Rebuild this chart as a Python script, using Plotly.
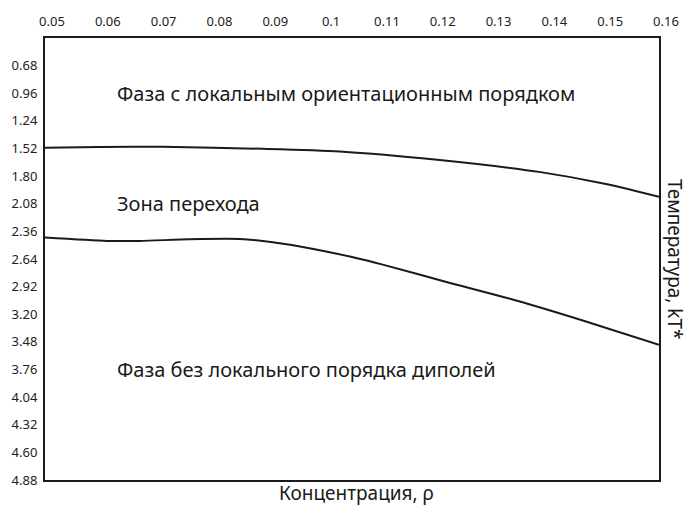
import plotly.graph_objects as go

# Concentration grid and phase-boundary temperatures
conc_upper = [0.05, 0.0598, 0.0711, 0.089, 0.1028, 0.1207, 0.1385, 0.1505, 0.16]
temp_upper = [1.513, 1.505, 1.503, 1.523, 1.55, 1.637, 1.757, 1.88, 2.01]

conc_lower = [0.05, 0.0611, 0.067, 0.0759, 0.0849, 0.0908, 0.0969, 0.1063,
              0.1105, 0.1224, 0.1344, 0.1462, 0.16]
temp_lower = [2.423, 2.457, 2.457, 2.44, 2.437, 2.47, 2.525, 2.637,
              2.697, 2.88, 3.06, 3.26, 3.51]

x_ticks = [0.05, 0.06, 0.07, 0.08, 0.09, 0.1, 0.11, 0.12, 0.13, 0.14, 0.15, 0.16]
x_ticktext = ["0.05", "0.06", "0.07", "0.08", "0.09", "0.1", "0.11", "0.12",
              "0.13", "0.14", "0.15", "0.16"]
y_ticks = [0.68, 0.96, 1.24, 1.52, 1.80, 2.08, 2.36, 2.64, 2.92, 3.20,
           3.48, 3.76, 4.04, 4.32, 4.60, 4.88]
y_ticktext = [f"{v:.2f}" for v in y_ticks]

region_labels = ["Фаза с локальным ориентационным порядком",
                 "Зона перехода",
                 "Фаза без локального порядка диполей"]
region_y = [0.96, 2.08, 3.76]
label_x = 0.0626

FONT = "Noto Sans"
INK = "#1a1a1a"

fig = go.Figure()
for xs, ys in [(conc_upper, temp_upper), (conc_lower, temp_lower)]:
    fig.add_trace(go.Scatter(
        x=xs, y=ys, mode="lines",
        line=dict(color=INK, width=2, shape="spline", smoothing=0.7),
        hoverinfo="skip", showlegend=False,
    ))

annotations = []
for text, yv in zip(region_labels, region_y):
    annotations.append(dict(
        x=label_x, y=yv, xref="x", yref="y", text=text, showarrow=False,
        xanchor="left", yanchor="middle",
        font=dict(family=FONT, size=20, color=INK),
    ))
annotations.append(dict(
    x=0.507, y=-0.030, xref="paper", yref="paper", text="Концентрация, ρ",
    showarrow=False, xanchor="center", yanchor="middle",
    font=dict(family=FONT, size=19, color=INK),
))
annotations.append(dict(
    x=1.026, y=0.498, xref="paper", yref="paper", text="Температура, kT*",
    showarrow=False, xanchor="center", yanchor="middle", textangle=90,
    font=dict(family=FONT, size=19, color=INK),
))

fig.update_layout(
    width=691, height=508,
    margin=dict(l=45, r=31, t=32, b=28),
    paper_bgcolor="white", plot_bgcolor="white",
    annotations=annotations,
    xaxis=dict(
        side="top", range=[0.05, 0.16], tickvals=x_ticks, ticktext=x_ticktext,
        showgrid=False, zeroline=False, ticks="", ticklabelshift=7,
        ticklabelstandoff=5,
        showline=True, mirror=True, linecolor=INK, linewidth=2,
        tickfont=dict(family=FONT, size=13, color="#222"),
    ),
    yaxis=dict(
        range=[4.88, 0.40], tickvals=y_ticks, ticktext=y_ticktext,
        showgrid=False, zeroline=False, ticks="", ticklabelstandoff=3,
        showline=True, mirror=True, linecolor=INK, linewidth=2,
        tickfont=dict(family=FONT, size=13, color="#222"),
    ),
)

fig.write_html("out.html")
